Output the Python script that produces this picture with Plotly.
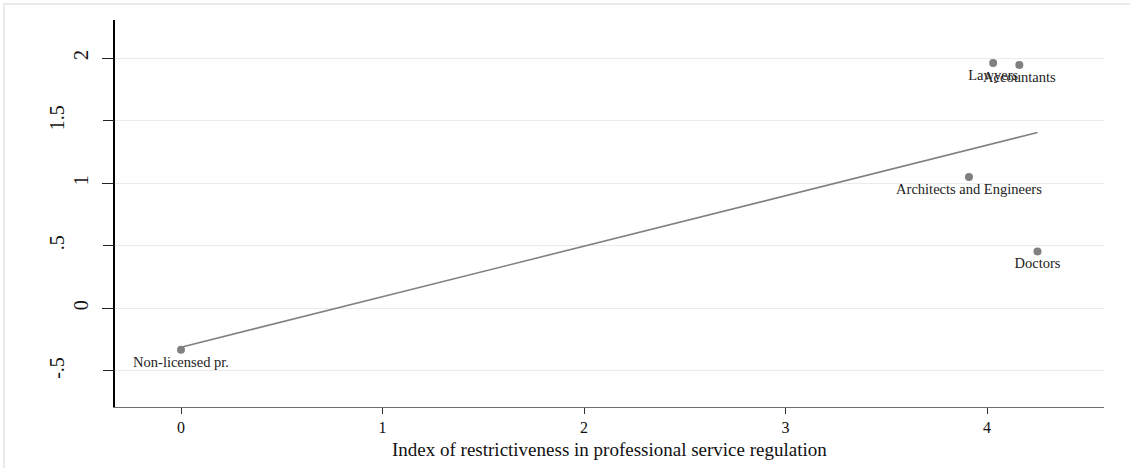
import plotly.graph_objects as go

# Data
occupations = ["Non-licensed pr.", "Lawyers", "Accountants", "Architects and Engineers", "Doctors"]
restrictiveness = [0.0, 4.03, 4.16, 3.91, 4.25]
outcome = [-0.33, 1.96, 1.945, 1.05, 0.455]

# Fitted line end points
fit_x = [0.0, 4.25]
fit_y = [-0.31, 1.405]

x_ticks = [0, 1, 2, 3, 4]
y_ticks_int = [0, 1, 2]
y_ticks_int_text = ["0", "1", "2"]
y_ticks_dec = [-0.5, 0.5, 1.5]
y_ticks_dec_text = ["-.5", ".5", "1.5"]
x_title = "Index of restrictiveness in professional service regulation"

x_range = [-0.3275, 4.58]
y_range = [-0.788, 2.304]

FONT = "Liberation Serif"
GRID = "#ebebeb"

fig = go.Figure()

fig.add_trace(go.Scatter(
    x=fit_x, y=fit_y, mode="lines",
    line=dict(color="#808080", width=1.6),
    hoverinfo="skip", showlegend=False,
))

fig.add_trace(go.Scatter(
    x=restrictiveness, y=outcome, mode="markers+text",
    text=occupations, textposition="bottom center",
    textfont=dict(family=FONT, size=14.5, color="#222222"),
    marker=dict(color="#808080", size=8),
    showlegend=False,
))

# invisible trace to activate second y axis
fig.add_trace(go.Scatter(x=[None], y=[None], yaxis="y2", showlegend=False, hoverinfo="skip"))

fig.update_layout(
    width=1130, height=468,
    margin=dict(l=115, r=26, t=20, b=61),
    paper_bgcolor="white", plot_bgcolor="white",
    font=dict(family=FONT, color="#111111"),
    xaxis=dict(
        range=x_range, tickvals=x_ticks, ticktext=[str(v) for v in x_ticks],
        showgrid=False, zeroline=False,
        showline=True, linecolor="#6e6e6e", linewidth=1.3,
        ticks="outside", ticklen=6, tickcolor="#333333", tickwidth=1,
        tickfont=dict(family=FONT, size=16, color="#111111"),
        ticklabelstandoff=0,
    ),
    yaxis=dict(
        range=y_range, tickvals=y_ticks_int, ticktext=y_ticks_int_text,
        tickangle=-90,
        showgrid=True, gridcolor=GRID, gridwidth=1, zeroline=False,
        showline=True, linecolor="black", linewidth=1.5,
        ticks="outside", ticklen=11, tickcolor="#222222", tickwidth=1,
        tickfont=dict(family=FONT, size=20, color="#111111"),
        ticklabelstandoff=6,
    ),
    yaxis2=dict(
        range=y_range, tickvals=y_ticks_dec, ticktext=y_ticks_dec_text,
        overlaying="y", side="left", tickangle=-90,
        showgrid=True, gridcolor=GRID, gridwidth=1, zeroline=False,
        showline=False,
        ticks="outside", ticklen=11, tickcolor="#222222", tickwidth=1,
        tickfont=dict(family=FONT, size=20, color="#111111"),
        ticklabelstandoff=31,
    ),
    annotations=[dict(
        text=x_title, xref="paper", yref="paper", x=0.5, y=-0.109,
        xanchor="center", yanchor="middle", showarrow=False,
        font=dict(family=FONT, size=19, color="#111111"),
    )],
    shapes=[dict(
        type="rect", xref="paper", yref="paper",
        x0=-0.1122, x1=1.3, y0=-0.5, y1=1.0413,
        line=dict(color="#e4e4e4", width=1.5), layer="below",
    )],
)

fig.write_html("out.html")
